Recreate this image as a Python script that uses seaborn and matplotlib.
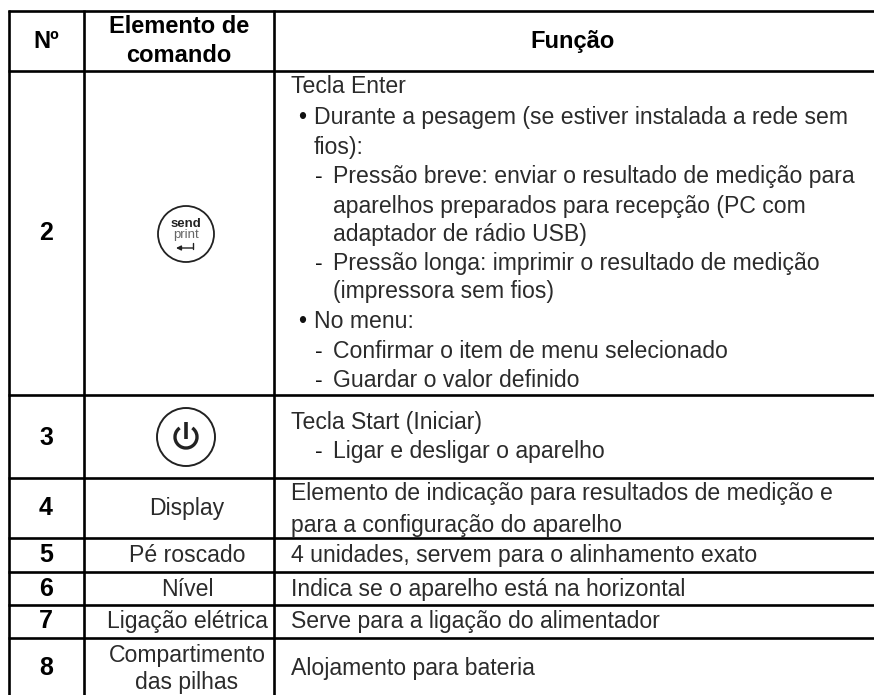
import matplotlib
matplotlib.use("Agg")
import matplotlib.pyplot as plt
from matplotlib.patches import Circle, Arc
import seaborn as sns

sns.set_theme(style="white")
plt.rcParams['font.family'] = ['Liberation Sans', 'DejaVu Sans']

W, H = 874, 695
col_edges = [8.5, 84, 273.5]
row_edges = [11, 71, 395, 477.5, 538, 571.5, 604.5, 638]

headers = ["Nº", "Elemento de", "comando", "Função"]
numbers = ["2", "3", "4", "5", "6", "7", "8"]
number_base = [240, 445, 515, 562, 596, 628, 675]
elements = [("Display", 515), ("Pé roscado", 562), ("Nível", 596), ("Ligação elétrica", 628),
            ("Compartimento", 662), ("das pilhas", 689)]
# (marker, marker x, text x, baseline y, text)
funcs = [
    ("", 0, 291, 93, "Tecla Enter"),
    ("•", 298, 314, 124, "Durante a pesagem (se estiver instalada a rede sem"),
    ("", 0, 314, 154, "fios):"),
    ("-", 315, 333, 183, "Pressão breve: enviar o resultado de medição para"),
    ("", 0, 333, 213, "aparelhos preparados para recepção (PC com"),
    ("", 0, 333, 241, "adaptador de rádio USB)"),
    ("-", 315, 333, 270, "Pressão longa: imprimir o resultado de medição"),
    ("", 0, 333, 298, "(impressora sem fios)"),
    ("•", 298, 314, 328, "No menu:"),
    ("-", 315, 333, 358, "Confirmar o item de menu selecionado"),
    ("-", 315, 333, 387, "Guardar o valor definido"),
    ("", 0, 291, 429, "Tecla Start (Iniciar)"),
    ("-", 315, 333, 458, "Ligar e desligar o aparelho"),
    ("", 0, 291, 500, "Elemento de indicação para resultados de medição e"),
    ("", 0, 291, 532, "para a configuração do aparelho"),
    ("", 0, 291, 562, "4 unidades, servem para o alinhamento exato"),
    ("", 0, 291, 596, "Indica se o aparelho está na horizontal"),
    ("", 0, 291, 628, "Serve para a ligação do alimentador"),
    ("", 0, 291, 675, "Alojamento para bateria"),
]

fig = plt.figure(figsize=(W/100, H/100), dpi=100)
ax = fig.add_axes([0, 0, 1, 1])
ax.set_xlim(0, W); ax.set_ylim(H, 0); ax.axis("off")

LW = 1.9
for x in col_edges:
    ax.plot([x, x], [row_edges[0]-1, H], color="black", lw=LW, solid_capstyle="butt")
for y in row_edges:
    ax.plot([col_edges[0]-1, W], [y, y], color="black", lw=LW, solid_capstyle="butt")

FS = 16.6
FB = 17
TXT = "#2b2b2b"
ax.text(46, 48, headers[0], ha="center", va="baseline", fontsize=FB, weight="bold", color="black")
ax.text(179, 33, headers[1], ha="center", va="baseline", fontsize=FB, weight="bold", color="black")
ax.text(179, 62.5, headers[2], ha="center", va="baseline", fontsize=FB, weight="bold", color="black")
ax.text(573, 48, headers[3], ha="center", va="baseline", fontsize=FB, weight="bold", color="black")

for n, y in zip(numbers, number_base):
    ax.text(46, y, n, ha="center", va="baseline", fontsize=FB + 1, weight="bold", color="black")
for s, y in elements:
    ax.text(187, y, s, ha="center", va="baseline", fontsize=FS, color=TXT)
for mark, mx, x, y, s in funcs:
    if mark:
        ax.text(mx, y, mark, ha="left", va="baseline", fontsize=FS, color="#111111")
    ax.text(x, y, s, ha="left", va="baseline", fontsize=FS, color=TXT)

# send / print key
cx, cy = 186, 234
ax.add_patch(Circle((cx, cy), 28, fill=False, ec="#222222", lw=1.3))
ax.text(cx, cy - 7, "send", ha="center", va="baseline", fontsize=9.5, weight="bold", color="#222222")
ax.text(cx, cy + 4, "print", ha="center", va="baseline", fontsize=9.5, color="#666666")
ax.annotate("", xy=(cx - 10, cy + 14), xytext=(cx + 7, cy + 14),
            arrowprops=dict(arrowstyle="-|>", color="#222222", lw=1.0, mutation_scale=7, shrinkA=0, shrinkB=0))
ax.plot([cx + 7, cx + 7], [cy + 14.5, cy + 9], color="#222222", lw=1.0)

# power key
cx, cy = 186, 437
ax.add_patch(Circle((cx, cy), 29, fill=False, ec="#222222", lw=1.4))
ax.add_patch(Arc((cx, cy), 22, 22, theta1=-55, theta2=235, ec="#222222", lw=2.4))
ax.plot([cx, cx], [cy - 15, cy + 2], color="#222222", lw=2.6, solid_capstyle="butt")

fig.savefig("out.png", dpi=100, facecolor="white")
